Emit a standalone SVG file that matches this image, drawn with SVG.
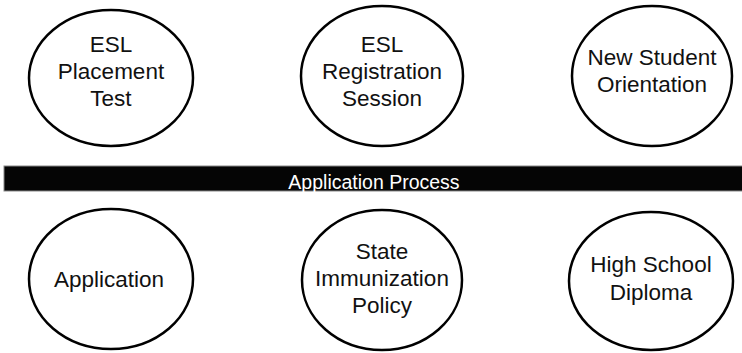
<svg xmlns="http://www.w3.org/2000/svg" width="742" height="353" viewBox="0 0 742 353">
<style>
.n ellipse{fill:#fff;stroke:#000;stroke-width:2.5}
.n text{font-family:"Liberation Sans",Arial,sans-serif;font-size:22.5px;fill:#111;text-anchor:middle}
.bar text{font-family:"Liberation Sans",Arial,sans-serif;font-size:19.5px;fill:#fff;text-anchor:middle}
</style>
<rect width="742" height="353" fill="#fff"/>
<g id="bar" class="bar">
<rect x="4" y="166" width="740" height="25" fill="#050505" stroke="#888" stroke-width="1"/>
<text x="374" y="189">Application Process</text>
</g>
<g id="connectors"></g>
<g id="esl-placement" class="n">
<ellipse cx="111" cy="78" rx="82" ry="68"/>
<text x="111" y="52">ESL</text><text x="111" y="79">Placement</text><text x="111" y="106">Test</text>
</g>
<g id="esl-registration" class="n">
<ellipse cx="382" cy="76" rx="81" ry="70"/>
<text x="382" y="52">ESL</text><text x="382" y="79">Registration</text><text x="382" y="106">Session</text>
</g>
<g id="orientation" class="n">
<ellipse cx="652" cy="76" rx="80" ry="70"/>
<text x="652" y="65">New Student</text><text x="652" y="92">Orientation</text>
</g>
<g id="application" class="n">
<ellipse cx="111" cy="279" rx="82" ry="70"/>
<text x="109" y="287">Application</text>
</g>
<g id="immunization" class="n">
<ellipse cx="382" cy="280" rx="80" ry="70"/>
<text x="382" y="259">State</text><text x="382" y="286">Immunization</text><text x="382" y="313">Policy</text>
</g>
<g id="diploma" class="n">
<ellipse cx="651" cy="281" rx="82" ry="69"/>
<text x="651" y="272">High School</text><text x="651" y="300">Diploma</text>
</g>
</svg>
